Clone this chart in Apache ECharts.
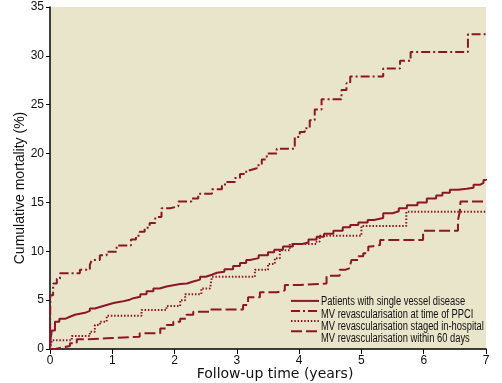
<!DOCTYPE html>
<html>
<head>
<meta charset="utf-8">
<script src="https://cdn.jsdelivr.net/npm/echarts@6/dist/echarts.min.js"></script>
<style>html,body{margin:0;padding:0;background:#fff}#c{width:502px;height:383px}</style>
</head>
<body>
<div id="c"></div>
<script>
const xTicks = [0,1,2,3,4,5,6,7];
const yTicks = [0,5,10,15,20,25,30,35];
const seriesNames = [
  "Patients with single vessel disease",
  "MV revascularisation at time of PPCI",
  "MV revascularisation staged in-hospital",
  "MV revascularisation within 60 days"
];
const singleT = [0,0.01,0.03,0.08,0.15,0.25,0.32,0.4,0.48,0.56,0.64,0.72,0.8,0.91,1.02,1.15,1.28,1.34,1.45,1.55,1.66,1.76,1.87,2.0,2.09,2.2,2.3,2.41,2.5,2.6,2.68,2.8,2.94,3.05,3.15,3.21,3.35,3.5,3.6,3.74,3.9,4.05,4.15,4.28,4.4,4.55,4.7,4.82,4.95,5.1,5.2,5.35,5.5,5.6,5.73,5.9,6.05,6.2,6.3,6.42,6.55,6.69,6.8,6.9,6.96,7.0];
const singleY = [0,1.0,1.9,2.8,3.1,3.3,3.5,3.6,3.7,3.9,4.15,4.3,4.5,4.7,4.85,5.05,5.2,5.35,5.6,5.9,6.2,6.4,6.55,6.65,6.7,6.9,7.1,7.4,7.6,7.8,7.9,8.15,8.5,8.8,9.1,9.3,9.6,9.9,10.15,10.5,10.75,10.9,11.2,11.5,11.8,12.1,12.45,12.7,12.95,13.2,13.4,13.9,14.1,14.4,14.7,15.0,15.4,15.7,16.0,16.3,16.4,16.5,16.8,17.0,17.3,17.4];
const ppciT = [0,0.005,0.05,0.11,0.16,0.48,0.64,0.67,0.8,0.91,1.07,1.3,1.38,1.44,1.52,1.6,1.69,1.79,1.93,2.06,2.27,2.38,2.6,2.76,2.81,2.97,3.05,3.15,3.21,3.32,3.4,3.48,3.64,3.93,4.01,4.09,4.17,4.25,4.36,4.68,4.76,4.82,5.35,5.62,5.79,6.71,7.0];
const ppciY = [0,5.5,6.7,7.2,7.75,8.1,8.6,9.1,9.6,9.95,10.6,11.2,11.6,12.0,12.4,12.9,13.5,14.4,14.6,15.1,15.4,15.9,16.35,16.7,17.1,17.5,17.9,18.3,18.5,18.8,19.4,20.0,20.5,21.7,22.2,22.6,23.4,24.5,25.55,26.5,27.2,27.9,28.7,29.5,30.4,32.2,32.2];
const stagedT = [0,0.03,0.35,0.64,0.72,0.8,0.91,1.47,1.87,2.09,2.17,2.43,2.57,2.6,3.29,3.5,3.61,3.69,3.85,4.28,4.33,5.0,5.72,7.0];
const stagedY = [0,0.9,1.33,1.77,2.45,2.8,3.4,4.0,4.4,5.0,5.6,6.2,6.3,7.4,8.1,8.7,9.3,10.1,10.75,11.0,11.6,12.6,14.05,14.05];
const within60T = [0,0.08,0.16,0.32,0.43,0.59,0.91,1.44,1.77,1.87,1.98,2.09,2.19,2.3,2.57,3.1,3.18,3.37,3.64,3.77,4.01,4.44,4.65,4.74,4.82,4.84,4.95,5.03,5.11,5.16,5.3,5.99,6.55,6.58,6.59,7.0];
const within60Y = [0,0.1,0.3,0.6,1.0,1.1,1.26,1.6,2.1,2.45,2.8,3.1,3.5,3.8,4.05,4.5,5.3,5.8,6.0,6.55,6.7,7.5,8.1,8.3,8.6,9.1,9.5,9.8,10.5,10.65,11.15,12.1,13.2,14.05,15.1,15.1];

const red = '#8c1628';
const font = "'Liberation Sans',sans-serif";
const pairs = (t, y) => t.map((v, i) => [v, y[i]]);
const dashes = ['solid', [9,3,2,3], [1.5,1.8], [11,4]];
const dataSets = [pairs(singleT,singleY), pairs(ppciT,ppciY), pairs(stagedT,stagedY), pairs(within60T,within60Y)];

// legend label texts drawn condensed (no narrow font installed)
const legendTop = 296.5, legendRow = 12.3;
const legendTexts = seriesNames.map((n, i) => ({
  type: 'text', x: 321, y: legendTop + 5.5 + i * legendRow, scaleX: 0.78, scaleY: 1.02,
  style: {text: n, font: "12px 'Liberation Sans', sans-serif", fill: '#111', textVerticalAlign: 'middle', textAlign: 'left'}
}));

const chart = echarts.init(document.getElementById('c'), null, {renderer:'canvas'});
chart.setOption({
  animation: false,
  backgroundColor: '#ffffff',
  grid: {left: 50, right: 16, top: 7, bottom: 34, outerBoundsMode: 'none', containLabel: false,
    show: true, backgroundColor: '#e9e5ca', borderWidth: 0},
  legend: {
    orient: 'vertical', left: 290, top: legendTop, padding: 0, itemWidth: 28, itemHeight: 11, itemGap: 1.3,
    itemStyle: {color: 'rgba(0,0,0,0)', borderWidth: 0},
    formatter: () => '',
    textStyle: {fontSize: 11, lineHeight: 11},
    data: seriesNames
  },
  graphic: legendTexts,
  xAxis: {
    type: 'value', min: 0, max: 7, interval: 1,
    name: 'Follow-up time (years)', nameLocation: 'middle', nameGap: 18, nameMoveOverlap: false,
    nameTextStyle: {fontFamily: "'DejaVu Sans',sans-serif", fontSize: 14, color: '#111', padding: [0,0,0,14]},
    axisLine: {show: true, lineStyle: {color: '#000', width: 1.5}},
    axisTick: {show: true, length: 5, lineStyle: {color: '#000'}},
    axisLabel: {fontFamily: font, fontSize: 12, color: '#111', margin: 6,
      formatter: v => xTicks.includes(v) ? String(v) : ''},
    splitLine: {show: false}
  },
  yAxis: {
    type: 'value', min: 0, max: 35, interval: 5,
    name: 'Cumulative mortality (%)', nameLocation: 'middle', nameGap: 23, nameMoveOverlap: false,
    nameTextStyle: {fontFamily: font, fontSize: 14, color: '#111', padding: [0,20,0,0]},
    axisLine: {show: true, lineStyle: {color: '#000', width: 1.5}},
    axisTick: {show: true, length: 4, lineStyle: {color: '#000'}},
    axisLabel: {fontFamily: font, fontSize: 12, color: '#111', margin: 6,
      formatter: v => yTicks.includes(v) ? String(v) : ''},
    splitLine: {show: false}
  },
  series: seriesNames.map((n, i) => ({
    name: n, type: 'line', step: 'end', symbol: 'none',
    data: dataSets[i],
    lineStyle: {color: red, width: 2, type: dashes[i]},
    itemStyle: {color: red}
  }))
});
</script>
</body>
</html>
